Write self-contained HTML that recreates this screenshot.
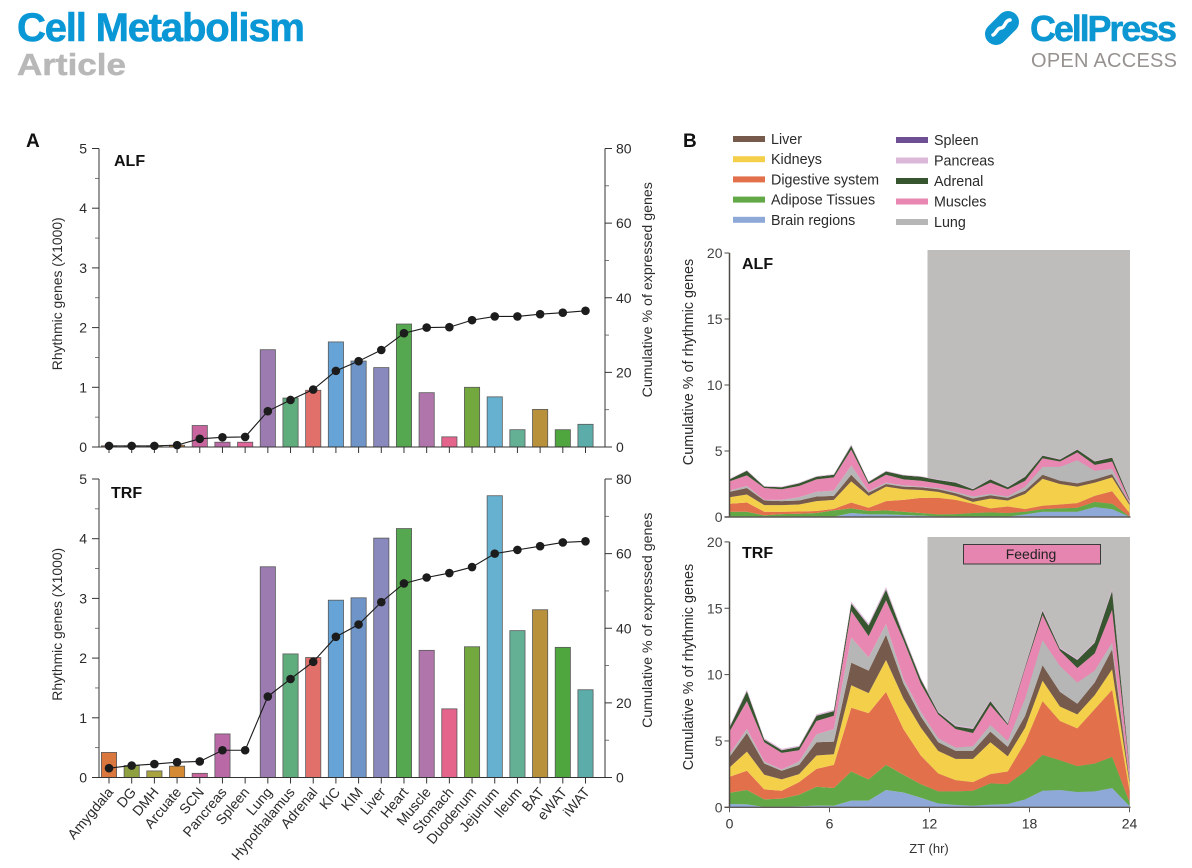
<!DOCTYPE html>
<html lang="en">
<head>
<meta charset="utf-8">
<title>Rhythmic genes chart</title>
<style>
html,body{margin:0;padding:0;background:#fff;width:1192px;height:868px;overflow:hidden}
svg{display:block}
text{font-family:"Liberation Sans",Arial,sans-serif;fill:#2a2a2a}
</style>
</head>
<body>
<svg id="fig" width="1192" height="868" viewBox="0 0 1192 868" xmlns="http://www.w3.org/2000/svg">
  <g>
    <text x="17" y="41" font-size="40" font-weight="700" stroke="#0a97d6" stroke-width="0.6" style="fill:#0a97d6" textLength="288" lengthAdjust="spacing">Cell Metabolism</text>
    <text x="17" y="75" font-size="31" font-weight="700" stroke="#b8b8b8" stroke-width="0.5" style="fill:#b8b8b8" textLength="109" lengthAdjust="spacingAndGlyphs">Article</text>
    <g fill="none" stroke-linecap="round">
      <path d="M1008 22 L996 34" stroke="#0d97d2" stroke-width="22"/>
      <path d="M1010 20 C1005 20 1005 28 1001 28 C997 28 996 34 993 35" stroke="#ffffff" stroke-width="3.5"/>
    </g>
    <text x="1030" y="41" font-size="36" font-weight="700" stroke="#0d97d2" stroke-width="0.5" style="fill:#0d97d2" textLength="147" lengthAdjust="spacing">CellPress</text>
    <text x="1031" y="67" font-size="20" style="fill:#97928f" textLength="146" lengthAdjust="spacing">OPEN ACCESS</text>
  </g>
  <text x="26" y="147" font-size="19" font-weight="700" style="fill:#111">A</text>
  <text x="683" y="147" font-size="19" font-weight="700" style="fill:#111">B</text>
  <g id="panelA"></g>
  <g id="panelB"></g>
</svg>
<script>
// ---------- Panel A data ----------
const categories = ["Amygdala","DG","DMH","Arcuate","SCN","Pancreas","Spleen","Lung","Hypothalamus","Adrenal","KIC","KIM","Liver","Heart","Muscle","Stomach","Duodenum","Jejunum","Ileum","BAT","eWAT","iWAT"];
const barColors = ["#d9773f","#8fa040","#a8a33f","#d38a33","#c8659f","#b96aa6","#e2659a","#9b7bb0","#5fad7d","#e2706a","#66a3d6","#6f94c8","#8a89bd","#55a84f","#b075ab","#e5648c","#73a83f","#66b0d0","#63b095","#b8913a","#4fa63f","#5cacaa"];
const alfBars = [0.02,0.02,0.02,0.03,0.36,0.08,0.08,1.63,0.82,0.95,1.76,1.44,1.33,2.06,0.91,0.17,1.0,0.84,0.29,0.63,0.29,0.38];
const alfCumulative = [0.3,0.3,0.3,0.5,2.2,2.6,2.7,9.6,12.6,15.4,20.4,23,26,30.5,32,32.1,34,35,35,35.6,36,36.5];
const trfBars = [0.42,0.2,0.11,0.19,0.07,0.73,0,3.53,2.07,2.01,2.97,3.01,4.01,4.17,2.13,1.15,2.19,4.72,2.46,2.81,2.18,1.47];
const trfCumulative = [2.5,3.2,3.6,4.1,4.3,7.3,7.3,21.7,26.4,31,37.7,41,47,52,53.6,54.8,56.4,60,61,62,63,63.3];
const leftTicks = [0,1,2,3,4,5];
const leftMinorTicks = [0.5,1.5,2.5,3.5,4.5];
const rightTicks = [0,20,40,60,80];
const rightMinorTicks = [10,30,50,70];

// ---------- Panel B data (cumulative top of every layer, one value per time point) ----------
const ztTicks = [0,6,12,18,24];
const cumTicks = [0,5,10,15,20];
const layerNames = ["brain-regions","adipose-tissues","digestive-system","kidneys","liver","lung","muscles","adrenal","pancreas"];
const layerColors = ["#8ea9d8","#62a846","#e2704a","#f4d04a","#765a4c","#b6b6b6","#e887b2","#37552f","#dcb8d8"];
const alfBrain = [0.02,0.02,0.02,0.02,0.02,0.02,0.03,0.3,0.2,0.2,0.15,0.1,0.05,0.04,0.03,0.03,0.04,0.2,0.4,0.4,0.4,0.75,0.6,0.02];
const alfAdipose = [0.4,0.4,0.12,0.22,0.25,0.3,0.5,0.65,0.45,0.5,0.4,0.3,0.2,0.22,0.3,0.35,0.3,0.4,0.6,0.65,0.7,1.15,1.0,0.05];
const alfDigestive = [1.0,1.1,0.4,0.4,0.42,0.45,0.62,1.1,0.7,1.2,1.3,1.45,1.45,1.3,1.0,0.65,0.8,0.6,0.85,0.95,1.05,1.6,1.95,0.3];
const alfKidneys = [1.5,1.7,0.9,0.9,0.95,1.2,1.3,2.7,1.6,2.3,2.1,2.05,1.9,1.6,1.15,1.4,1.25,1.75,2.9,2.5,2.3,2.6,3.0,0.9];
const alfLiver = [1.9,2.2,1.25,1.2,1.25,1.55,1.6,3.2,1.85,2.5,2.3,2.25,2.1,1.8,1.4,1.65,1.45,2.0,3.2,2.75,2.55,2.85,3.25,1.05];
const alfLung = [2.0,2.35,1.3,1.3,1.5,1.9,2.0,3.9,1.95,2.6,2.4,2.3,2.2,1.9,1.55,1.75,1.55,2.3,3.8,3.8,4.3,3.5,3.65,1.1];
const alfMuscles = [2.7,3.15,2.2,2.1,2.35,2.85,3.0,5.1,2.5,3.2,2.85,2.75,2.55,2.3,2.0,2.6,2.1,2.75,4.45,4.2,4.9,3.95,4.2,1.25];
const alfAdrenal = [2.85,3.5,2.3,2.25,2.55,3.05,3.2,5.4,2.65,3.45,3.15,3.05,2.8,2.6,2.1,2.85,2.25,3.05,4.65,4.35,5.1,4.2,4.5,1.35];
const alfPancreas = [2.9,3.55,2.35,2.3,2.6,3.1,3.25,5.5,2.7,3.5,3.2,3.1,2.85,2.65,2.15,2.9,2.3,3.1,4.7,4.4,5.15,4.25,4.55,1.4];
const trfBrain = [0.25,0.22,0.03,0.05,0.07,0.13,0.12,0.5,0.5,1.3,1.12,0.72,0.3,0.18,0.12,0.2,0.25,0.6,1.25,1.3,1.15,1.2,1.45,0.1];
const trfAdipose = [1.1,1.3,0.6,0.65,0.95,1.55,1.45,2.7,2.1,3.2,2.45,1.75,1.2,1.2,1.25,1.8,1.75,2.7,3.95,3.55,3.1,3.3,3.8,0.4];
const trfDigestive = [2.3,2.75,1.35,1.25,1.9,2.9,3.2,7.5,7.1,8.7,5.9,3.9,2.55,2.05,1.9,2.5,2.7,4.9,8.0,6.5,5.95,7.4,8.85,1.25];
const trfKidneys = [3.0,4.2,2.45,2.1,2.5,3.9,4.0,9.2,8.6,11.1,8.2,6.0,4.25,3.65,3.65,4.9,3.85,6.0,9.55,7.6,7.0,8.45,10.4,1.85];
const trfLiver = [3.8,5.6,3.3,2.75,3.2,4.9,4.95,10.9,10.3,13.0,9.35,6.85,4.9,4.25,4.25,5.7,4.55,6.9,10.7,8.7,7.8,9.4,11.9,2.05];
const trfLung = [4.0,5.9,3.45,2.85,3.45,5.5,5.9,12.8,11.3,13.8,9.7,7.2,5.2,4.5,4.6,6.2,5.0,8.2,12.6,10.65,9.4,10.3,12.4,2.2];
const trfMuscles = [5.7,8.0,4.9,4.1,4.3,6.5,6.9,14.8,12.9,15.6,12.6,9.3,7.0,5.9,5.6,7.7,6.2,10.5,14.5,11.8,10.5,11.6,14.9,2.9];
const trfAdrenal = [6.0,8.75,5.1,4.3,4.55,6.9,7.25,15.35,13.7,16.4,12.95,9.65,7.15,6.1,5.9,8.0,6.3,10.6,14.8,11.95,11.1,12.4,16.3,3.0];
const trfPancreas = [6.12,8.87,5.2,4.4,4.65,7.0,7.35,15.5,13.85,16.6,13.1,9.75,7.25,6.2,6.0,8.1,6.4,10.7,14.95,12.05,11.2,12.5,16.45,3.1];
const legendLabels = ["Liver","Kidneys","Digestive system","Adipose Tissues","Brain regions","Spleen","Pancreas","Adrenal","Muscles","Lung"];
const legendColors = ["#765a4c","#f4d04a","#e2704a","#62a846","#8ea9d8","#6f4f94","#dcb8d8","#37552f","#e887b2","#b6b6b6"];

const NS = 'http://www.w3.org/2000/svg';
function make(parent, tag, attrs, content) {
  const el = document.createElementNS(NS, tag);
  for (const k in attrs) el.setAttribute(k, attrs[k]);
  if (content !== undefined) el.textContent = content;
  parent.appendChild(el);
  return el;
}
function nameIt(el, name) {
  
  
  return el;
}

// ---------- Panel A ----------
function drawBarChart(root, id, base, bars, cum, showCategories) {
  const top = base - 298.5;
  const axisLeft = 99, axisRight = 605;
  const xCat = i => 109 + i * (585.5 - 109) / (categories.length - 1);
  const yLeft = v => base - v * (base - top) / 5;
  const yRight = v => base - v * (base - top) / 80;
  const g = nameIt(make(root, 'g', {}), id + '-bar-chart');

  bars.forEach((v, i) => {
    const r = make(g, 'rect', {x: xCat(i) - 7.6, y: yLeft(v), width: 15.2, height: Math.max(0, base - yLeft(v)), fill: barColors[i], stroke: '#5a5a5a', 'stroke-width': 0.8});
    nameIt(r, id + '-bar-' + categories[i].toLowerCase());
  });

  const la = make(g, 'line', {x1: axisLeft, x2: axisLeft, y1: top, y2: base, stroke: '#333', 'stroke-width': 1});
  nameIt(la, id + '-left-axis');
  const ra = make(g, 'line', {x1: axisRight, x2: axisRight, y1: top, y2: base, stroke: '#333', 'stroke-width': 1});
  nameIt(ra, id + '-right-axis');
  const ba = make(g, 'line', {x1: 92, x2: 612, y1: base, y2: base, stroke: '#333', 'stroke-width': 1});
  nameIt(ba, id + '-baseline');

  leftTicks.forEach(v => {
    const t = make(g, 'line', {x1: 92, x2: axisLeft, y1: yLeft(v), y2: yLeft(v), stroke: '#333', 'stroke-width': 1});
    nameIt(t, id + '-left-tick');
    const l = make(g, 'text', {x: 87, y: yLeft(v) + 5, 'text-anchor': 'end', 'font-size': 14}, String(v));
    nameIt(l, id + '-left-tick-label');
  });
  leftMinorTicks.forEach(v => {
    const t = make(g, 'line', {x1: 95, x2: axisLeft, y1: yLeft(v), y2: yLeft(v), stroke: '#555', 'stroke-width': 0.8});
    nameIt(t, id + '-left-minor-tick');
  });
  rightTicks.forEach(v => {
    const t = make(g, 'line', {x1: axisRight, x2: 612, y1: yRight(v), y2: yRight(v), stroke: '#333', 'stroke-width': 1});
    nameIt(t, id + '-right-tick');
    const l = make(g, 'text', {x: 616, y: yRight(v) + 5, 'font-size': 14}, String(v));
    nameIt(l, id + '-right-tick-label');
  });
  rightMinorTicks.forEach(v => {
    const t = make(g, 'line', {x1: axisRight, x2: 609, y1: yRight(v), y2: yRight(v), stroke: '#555', 'stroke-width': 0.8});
    nameIt(t, id + '-right-minor-tick');
  });
  categories.forEach((c, i) => {
    const t = make(g, 'line', {x1: xCat(i), x2: xCat(i), y1: base, y2: base + 6, stroke: '#333', 'stroke-width': 1});
    nameIt(t, id + '-x-tick');
    if (showCategories) {
      const l = make(g, 'text', {x: xCat(i) + 5, y: base + 15, 'text-anchor': 'end', 'font-size': 14, transform: 'rotate(-50 ' + (xCat(i) + 5) + ' ' + (base + 15) + ')'}, c);
      nameIt(l, 'category-label-' + c.toLowerCase());
    }
  });

  const path = cum.map((v, i) => xCat(i) + ',' + yRight(v)).join(' ');
  const pl = make(g, 'polyline', {points: path, fill: 'none', stroke: '#1a1a1a', 'stroke-width': 1.1});
  nameIt(pl, id + '-cumulative-line');
  cum.forEach((v, i) => {
    const c = make(g, 'circle', {cx: xCat(i), cy: yRight(v), r: 4.3, fill: '#1c1c1c'});
    nameIt(c, id + '-cumulative-point-' + categories[i].toLowerCase());
  });

  const midY = (top + base) / 2;
  const leftMid = midY - 4;
  const rightMid = midY - 8;
  const yl = make(g, 'text', {x: 62, y: leftMid, 'text-anchor': 'middle', 'font-size': 13.9, transform: 'rotate(-90 62 ' + leftMid + ')'}, 'Rhythmic genes (X1000)');
  nameIt(yl, id + '-left-axis-title');
  const ry = make(g, 'text', {x: 652, y: rightMid, 'text-anchor': 'middle', 'font-size': 14.2, transform: 'rotate(-90 652 ' + rightMid + ')'}, 'Cumulative % of expressed genes');
  nameIt(ry, id + '-right-axis-title');
}

const panelA = document.getElementById('panelA');
drawBarChart(panelA, 'alf', 447, alfBars, alfCumulative, false);
drawBarChart(panelA, 'trf', 777.5, trfBars, trfCumulative, true);
const alfA = make(panelA, 'text', {x: 114, y: 166, 'font-size': 16, 'font-weight': 700, style: 'fill:#111'}, 'ALF');
nameIt(alfA, 'alf-bar-chart-title');
const trfA = make(panelA, 'text', {x: 111, y: 498, 'font-size': 16, 'font-weight': 700, style: 'fill:#111'}, 'TRF');
nameIt(trfA, 'trf-bar-chart-title');

// ---------- Panel B ----------
const panelB = document.getElementById('panelB');
legendLabels.forEach((label, i) => {
  const col = i < 5 ? 0 : 1;
  const row = i % 5;
  const sx = col ? 896 : 733;
  const sy = (col ? 140 : 139) + row * (col ? 20.5 : 20.2);
  const g = nameIt(make(panelB, 'g', {}), 'legend-entry-' + label.toLowerCase().replace(/ /g, '-'));
  const s = make(g, 'rect', {x: sx, y: sy - 3, width: 32, height: 6, fill: legendColors[i]});
  nameIt(s, 'legend-swatch');
  const t = make(g, 'text', {x: sx + 38, y: sy + 5, 'font-size': 14.3}, label);
  nameIt(t, 'legend-label');
});

function drawArea(root, id, base, unit, topEdge, layers, showX, titleMid) {
  const axisX = 729.5;
  const xIndex = i => axisX + i * 400 / 23;
  const xZT = h => axisX + h * 400 / 24;
  const yCum = v => base - v * unit;
  const g = nameIt(make(root, 'g', {}), id + '-area-chart');

  const night = make(g, 'rect', {x: xZT(12) - 2, y: topEdge, width: xZT(24) - xZT(12) + 2.5, height: base - topEdge, fill: '#bfbdbb'});
  nameIt(night, id + '-night-shading');

  layers.forEach((tops, k) => {
    const lower = k === 0 ? tops.map(() => 0) : layers[k - 1];
    const upperPts = tops.map((v, i) => xIndex(i) + ',' + yCum(v));
    const lowerPts = lower.map((v, i) => xIndex(i) + ',' + yCum(v)).reverse();
    const p = make(g, 'polygon', {points: upperPts.concat(lowerPts).join(' '), fill: layerColors[k]});
    nameIt(p, id + '-layer-' + layerNames[k]);
  });

  const la = make(g, 'line', {x1: axisX, x2: axisX, y1: yCum(20), y2: base, stroke: '#4f4a46', 'stroke-width': 1.5});
  nameIt(la, id + '-y-axis');
  const ba = make(g, 'line', {x1: axisX - 5, x2: xZT(24) + 1, y1: base, y2: base, stroke: '#5f5a56', 'stroke-width': 1.4});
  nameIt(ba, id + '-x-axis');
  cumTicks.forEach(v => {
    const t = make(g, 'line', {x1: axisX - 5, x2: axisX, y1: yCum(v), y2: yCum(v), stroke: '#4f4a46', 'stroke-width': 1});
    nameIt(t, id + '-y-tick');
    const l = make(g, 'text', {x: axisX - 7, y: yCum(v) + 5, 'text-anchor': 'end', 'font-size': 14, style: 'fill:#444'}, String(v));
    nameIt(l, id + '-y-tick-label');
  });
  if (showX) {
    ztTicks.forEach(h => {
      const t = make(g, 'line', {x1: xZT(h), x2: xZT(h), y1: base, y2: base + 5, stroke: '#5f5a56', 'stroke-width': 1});
      nameIt(t, id + '-x-tick');
      const l = make(g, 'text', {x: xZT(h), y: base + 21, 'text-anchor': 'middle', 'font-size': 14, style: 'fill:#333'}, String(h));
      nameIt(l, id + '-x-tick-label');
    });
  }
  const yt = make(g, 'text', {x: 693, y: titleMid, 'text-anchor': 'middle', 'font-size': 14.4, transform: 'rotate(-90 693 ' + titleMid + ')'}, 'Cumulative % of rhythmic genes');
  nameIt(yt, id + '-y-axis-title');
}

drawArea(panelB, 'alf', 517, 13.2, 250, [alfBrain, alfAdipose, alfDigestive, alfKidneys, alfLiver, alfLung, alfMuscles, alfAdrenal, alfPancreas], false, 362);
drawArea(panelB, 'trf', 807.3, 13.27, 537, [trfBrain, trfAdipose, trfDigestive, trfKidneys, trfLiver, trfLung, trfMuscles, trfAdrenal, trfPancreas], true, 667);

const alfB = make(panelB, 'text', {x: 742, y: 269, 'font-size': 16, 'font-weight': 700, style: 'fill:#111'}, 'ALF');
nameIt(alfB, 'alf-area-chart-title');
const trfB = make(panelB, 'text', {x: 742, y: 558, 'font-size': 16, 'font-weight': 700, style: 'fill:#111'}, 'TRF');
nameIt(trfB, 'trf-area-chart-title');
const feedBox = make(panelB, 'rect', {x: 963.5, y: 544.5, width: 137, height: 19.5, fill: '#e585b0', stroke: '#3a3a3a', 'stroke-width': 1});
nameIt(feedBox, 'feeding-window-box');
const feedText = make(panelB, 'text', {x: 1031, y: 559, 'text-anchor': 'middle', 'font-size': 14, style: 'fill:#222'}, 'Feeding');
nameIt(feedText, 'feeding-window-label');
const ztTitle = make(panelB, 'text', {x: 929, y: 853, 'text-anchor': 'middle', 'font-size': 13, style: 'fill:#333'}, 'ZT (hr)');
nameIt(ztTitle, 'x-axis-title');
</script>
</body>
</html>
